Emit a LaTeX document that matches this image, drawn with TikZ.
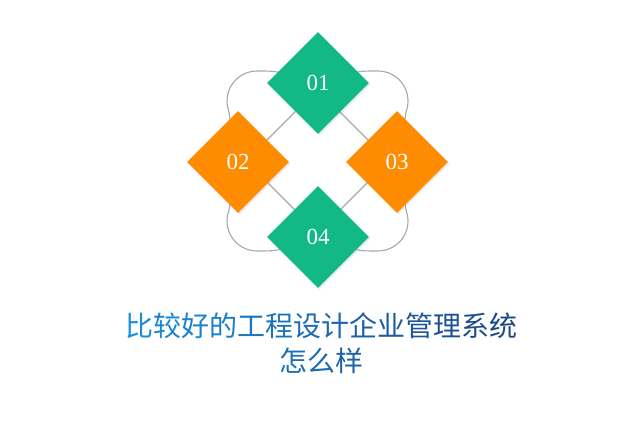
\documentclass[tikz,border=0pt]{standalone}
\usepackage{fontspec}
\setmainfont{Liberation Serif}
\newfontfamily\cjk{Noto Sans CJK SC}
\usetikzlibrary{shapes.geometric,shadows}
\definecolor{dgreen}{HTML}{13B887}
\definecolor{dorange}{HTML}{FF8C00}
\definecolor{loopgray}{HTML}{A8A8A8}
\definecolor{tL}{HTML}{1A8CDA}
\definecolor{tR}{HTML}{1D4786}
\newcommand\tchar[2]{{\color{tR!#1!tL}#2}}
\newcommand\cornerloop{%
  \draw[looppath] (35,-25) .. controls (18,-30) .. (0,-30) arc[start angle=-90, end angle=-200, radius=30] -- (-26,24);
  \draw[looppath] (43,6) -- (5,44);}
\begin{document}
\begin{tikzpicture}[x=1pt,y=-1pt,
  dia/.style={diamond, minimum width=102pt, minimum height=102pt, inner sep=0pt, draw=none, text=white,
    font=\fontsize{23}{23}\selectfont,
    drop shadow={opacity=0.16, shadow xshift=1.5pt, shadow yshift=-1.5pt}},
  looppath/.style={draw=loopgray, line width=1.1pt},
  title/.style={font=\cjk\fontsize{28}{28}\selectfont, inner sep=0pt}]
\useasboundingbox (0,0) rectangle (640,427);
\fill[white] (0,0) rectangle (640,427);
\begin{scope}[shift={(257,101)}] \cornerloop \end{scope}
\begin{scope}[shift={(378,101)}, xscale=-1] \cornerloop \end{scope}
\begin{scope}[shift={(257,221)}, yscale=-1] \cornerloop \end{scope}
\begin{scope}[shift={(378,221)}, xscale=-1, yscale=-1] \cornerloop \end{scope}
\node[dia, fill=dgreen] (d1) at (318,83) {01};
\node[dia, fill=dorange] (d2) at (238,162) {02};
\node[dia, fill=dorange] (d3) at (397,162) {03};
\node[dia, fill=dgreen] (d4) at (318,237) {04};
\node[title] (t1) at (321,326) {\tchar{0}{比}\tchar{8}{较}\tchar{15}{好}\tchar{23}{的}\tchar{31}{工}\tchar{38}{程}\tchar{46}{设}\tchar{54}{计}\tchar{62}{企}\tchar{69}{业}\tchar{77}{管}\tchar{85}{理}\tchar{92}{系}\tchar{100}{统}};
\node[title] (t2) at (321,361) {\tchar{42}{怎}\tchar{50}{么}\tchar{58}{样}};
\end{tikzpicture}
\end{document}
